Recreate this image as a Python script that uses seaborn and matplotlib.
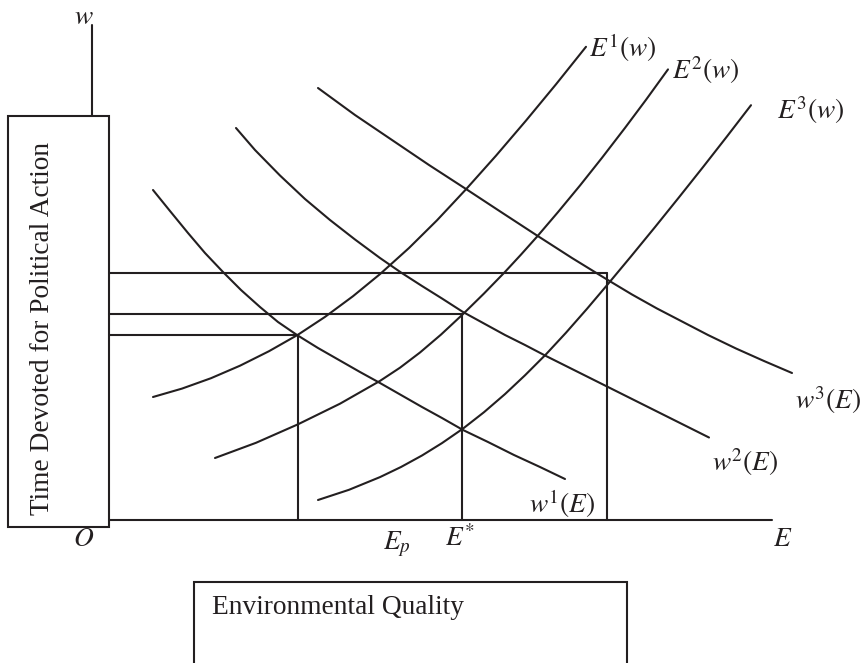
import matplotlib
matplotlib.use("Agg")
import matplotlib.pyplot as plt
import seaborn as sns
import pandas as pd
from matplotlib.patches import Rectangle

sns.set_style("white")
plt.rcParams['font.family'] = ['Liberation Serif', 'DejaVu Serif']
plt.rcParams['mathtext.fontset'] = 'stix'

# ---- data (E = environmental quality, w = time devoted to political action) ----
w1_E = [45, 62, 80, 97, 115, 133, 152, 170, 189, 210, 231, 252, 272, 293, 314, 334, 355, 380, 406, 432, 457]
w1_w = [330, 309, 287, 267, 248, 230, 213, 198, 185, 172, 160, 148, 137, 125, 113, 102, 90, 78, 65, 53, 41]

w2_E = [128, 147, 172, 197, 222, 247, 272, 293, 314, 334, 355, 376, 397, 417, 438, 465, 492, 519, 547, 574, 601]
w2_w = [392, 370, 344.5, 321, 300, 280.5, 262, 247.5, 234, 221.5, 208, 196.5, 185, 175, 164, 150.5, 137, 123.5, 109.5, 96, 82.5]

w3_E = [210, 247, 284, 321, 358, 393, 429, 464, 499, 524, 549, 575, 600, 628, 656, 684]
w3_w = [432, 405, 380, 355, 331, 308, 284.5, 262, 240.5, 225.5, 211.5, 198, 185, 171.5, 159, 147]

E1_E = [45, 74, 103, 132, 161, 190, 217, 245, 272, 301, 329, 358, 388, 418, 448, 478]
E1_w = [123, 131.4, 141.8, 154.3, 168.8, 185.3, 203.1, 223.8, 245.9, 272, 299.7, 330.7, 364.3, 399.4, 435.7, 473.2]

E2_E = [107, 148, 190, 232, 272, 292, 312, 333, 355, 376, 397, 413, 429, 450, 472, 494, 517, 538, 560]
E2_w = [62, 77.2, 95.7, 116.3, 139.1, 152.3, 167.5, 185.4, 205.9, 226.5, 248.1, 265.4, 283.3, 307.9, 334.5, 362.2, 392.1, 420.2, 450.6]

E3_E = [210, 241, 272, 293, 314, 334, 355, 376, 397, 417, 438, 458, 479, 499, 523, 547, 571, 595, 619, 643]
E3_w = [20, 30.2, 42.9, 53, 64.5, 76.9, 91.4, 107.8, 125.9, 144.7, 165.7, 187.3, 211.2, 234.8, 263.6, 292.9, 322.7, 352.9, 383.6, 414.8]

# equilibrium levels
eq_E = [190, 354, 499]      # Ep, E*, E3 intersection
eq_w = [185, 206, 247]

curve_names = ["w1", "w2", "w3", "E1", "E2", "E3"]
curve_data = [(w1_E, w1_w), (w2_E, w2_w), (w3_E, w3_w),
              (E1_E, E1_w), (E2_E, E2_w), (E3_E, E3_w)]

rows = []
for name, (xs, ys) in zip(curve_names, curve_data):
    for i, (x, y) in enumerate(zip(xs, ys)):
        rows.append({"curve": name, "order": i, "E": x, "w": y})
df = pd.DataFrame(rows)

INK = "#231f20"
LW = 1.5

fig = plt.figure(figsize=(8.67, 6.63), dpi=100)
ax = fig.add_axes([0, 0, 1, 1])
ax.set_xlim(-108, 759)
ax.set_ylim(-143, 520)
ax.axis("off")

sns.lineplot(data=df, x="E", y="w", units="curve", estimator=None, sort=False,
             color=INK, lw=LW, ax=ax, legend=False)

# axes
ax.plot([-16, -16], [404, 495], color=INK, lw=LW)
ax.plot([1, 664], [0, 0], color=INK, lw=LW)

# reference lines
for e, w in zip(eq_E, eq_w):
    ax.plot([1, e], [w, w], color=INK, lw=LW)
    ax.plot([e, e], [0, w], color=INK, lw=LW)

# boxes
ax.add_patch(Rectangle((-100, -7), 101, 411, fill=False, ec=INK, lw=LW))
ax.add_patch(Rectangle((86, -160), 433, 98, fill=False, ec=INK, lw=LW, clip_on=True))

FS = 19.7
ax.text(-65, 192, "Time Devoted for Political Action", rotation=90, ha="center",
        va="center", fontsize=FS, color=INK)
ax.text(104, -88, "Environmental Quality", ha="left", va="center", fontsize=FS, color=INK)

# labels
ax.text(-24, 503, "$w$", ha="center", va="center", fontsize=FS, color=INK)
ax.text(-24, -19, "$O$", ha="center", va="center", fontsize=FS, color=INK)
ax.text(675, -19, "$E$", ha="center", va="center", fontsize=FS, color=INK)
ax.text(289, -24, "$E_p$", ha="center", va="center", fontsize=FS, color=INK)
ax.text(352, -19, "$E^{*}$", ha="center", va="center", fontsize=FS, color=INK)

ax.text(481, 472, "$E^1(w)$", ha="left", va="center", fontsize=FS, color=INK)
ax.text(564, 450, "$E^2(w)$", ha="left", va="center", fontsize=FS, color=INK)
ax.text(669, 410, "$E^3(w)$", ha="left", va="center", fontsize=FS, color=INK)
ax.text(421, 16, "$w^1(E)$", ha="left", va="center", fontsize=FS, color=INK)
ax.text(604, 58, "$w^2(E)$", ha="left", va="center", fontsize=FS, color=INK)
ax.text(687, 120, "$w^3(E)$", ha="left", va="center", fontsize=FS, color=INK)

fig.savefig("out.png", dpi=100)
